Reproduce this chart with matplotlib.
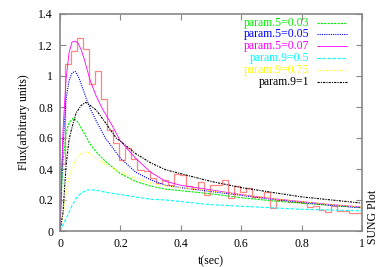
import matplotlib
matplotlib.use("Agg")
import matplotlib.pyplot as plt
import numpy as np

plt.rcParams['font.family'] = ['Liberation Serif', 'DejaVu Serif']

# ---- data ----
t_mag = [0, 0.005, 0.01, 0.02, 0.03, 0.04, 0.05, 0.06, 0.07, 0.08, 0.09, 0.1, 0.12, 0.14, 0.17, 0.2, 0.25, 0.3, 0.35, 0.4, 0.5, 0.6, 0.7, 0.8, 0.9, 1.0]
y_mag = [0, 0.35, 0.65, 0.98, 1.15, 1.22, 1.225, 1.21, 1.17, 1.11, 1.04, 0.97, 0.87, 0.79, 0.69, 0.58, 0.47, 0.38, 0.32, 0.295, 0.265, 0.235, 0.21, 0.19, 0.17, 0.155]

t_blue = [0, 0.005, 0.01, 0.02, 0.03, 0.04, 0.05, 0.06, 0.07, 0.086, 0.1, 0.12, 0.15, 0.2, 0.25, 0.3, 0.35, 0.4, 0.5, 0.6, 0.7, 0.8, 0.9, 1.0]
y_blue = [0, 0.3, 0.55, 0.85, 0.97, 1.02, 1.03, 1.0, 0.95, 0.86, 0.79, 0.71, 0.6, 0.47, 0.38, 0.33, 0.295, 0.28, 0.255, 0.23, 0.205, 0.185, 0.165, 0.15]

t_green = [0, 0.005, 0.01, 0.02, 0.03, 0.045, 0.06, 0.086, 0.1, 0.12, 0.15, 0.2, 0.25, 0.3, 0.35, 0.4, 0.5, 0.6, 0.7, 0.8, 0.9, 1.0]
y_green = [0, 0.25, 0.45, 0.63, 0.7, 0.73, 0.7, 0.61, 0.56, 0.51, 0.45, 0.37, 0.32, 0.29, 0.27, 0.26, 0.24, 0.215, 0.195, 0.18, 0.165, 0.15]

t_yel = [0, 0.01, 0.02, 0.03, 0.04, 0.053, 0.07, 0.085, 0.1, 0.12, 0.15, 0.2, 0.25, 0.3, 0.35, 0.4, 0.5, 0.6, 0.7, 0.8, 0.9, 1.0]
y_yel = [0, 0.1, 0.24, 0.35, 0.41, 0.46, 0.5, 0.51, 0.5, 0.47, 0.43, 0.38, 0.34, 0.31, 0.29, 0.28, 0.26, 0.235, 0.21, 0.19, 0.17, 0.155]

t_cyan = [0, 0.01, 0.02, 0.03, 0.04, 0.053, 0.07, 0.09, 0.11, 0.13, 0.15, 0.2, 0.25, 0.3, 0.35, 0.4, 0.5, 0.6, 0.7, 0.8, 0.9, 1.0]
y_cyan = [0, 0.04, 0.08, 0.12, 0.165, 0.21, 0.245, 0.265, 0.265, 0.26, 0.25, 0.235, 0.22, 0.205, 0.2, 0.19, 0.17, 0.16, 0.15, 0.14, 0.135, 0.13]

t_blk = [0, 0.01, 0.02, 0.03, 0.04, 0.053, 0.07, 0.085, 0.1, 0.12, 0.15, 0.186, 0.2, 0.25, 0.3, 0.35, 0.4, 0.5, 0.6, 0.7, 0.8, 0.9, 1.0]
y_blk = [0, 0.12, 0.42, 0.59, 0.67, 0.76, 0.81, 0.83, 0.81, 0.78, 0.7, 0.6, 0.58, 0.5, 0.44, 0.395, 0.37, 0.32, 0.28, 0.25, 0.22, 0.2, 0.18]

# histogram (bin 0 is the partial first bin from 0)
hist_first_edge = 0.0166
hist_width = 0.02
hist_vals = [0.43, 1.077, 1.16, 1.243, 1.174, 0.948, 1.03, 0.85, 0.65, 0.567,
             0.458, 0.535, 0.465, 0.394, 0.39, 0.34, 0.31, 0.33, 0.30, 0.37,
             0.36, 0.29, 0.27, 0.318, 0.23, 0.30, 0.30, 0.33, 0.21, 0.29,
             0.25, 0.28, 0.22, 0.22, 0.25, 0.15, 0.20, 0.20, 0.19, 0.19,
             0.18, 0.155, 0.16, 0.135, 0.12, 0.16, 0.13, 0.13, 0.115, 0.115,
             0.115]

labels = ["param.5=0.03", "param.5=0.05", "param.5=0.07",
          "param.9=0.5", "param.9=0.75", "param.9=1"]

# ---- figure ----
fig = plt.figure(figsize=(3.82, 2.67), dpi=100)
ax = fig.add_axes([60/382, 1-231/267, 302/382, 217/267])

edges = [0.0] + [hist_first_edge + hist_width*i for i in range(len(hist_vals)-1)]
edges = edges + [1.0]
edges = np.minimum(np.array(edges), 1.0)
ax.stairs(hist_vals, edges, color='#ff7070', lw=0.9, alpha=0.85, baseline=None, zorder=1)

series = [
    (t_green, y_green, '#00ee00', (0, (2, 1)), 0.8),
    (t_blue, y_blue, '#0000ff', (0, (1, 1)), 0.8),
    (t_mag, y_mag, '#ff00ff', '-', 0.6),
    (t_cyan, y_cyan, '#00ffff', (0, (3, 1.5)), 0.8),
    (t_yel, y_yel, '#ffff00', (0, (1, 1.5)), 0.8),
    (t_blk, y_blk, '#000000', (0, (2, 1, 1, 1)), 0.8),
]
for (t, y, c, ls, lw) in series:
    ax.plot(t, y, color=c, lw=lw, ls=ls, zorder=2)

ax.set_xlim(0, 1)
ax.set_ylim(0, 1.4)
ax.set_xticks([0, 0.2, 0.4, 0.6, 0.8, 1.0])
ax.set_xticklabels(["0", "0.2", "0.4", "0.6", "0.8", "1"])
ax.set_yticks([0, 0.2, 0.4, 0.6, 0.8, 1.0, 1.2, 1.4])
ax.set_yticklabels(["0", "0.2", "0.4", "0.6", "0.8", "1", "1.2", "1.4"])
ax.tick_params(direction='in', top=True, right=True, length=4, width=0.8,
               color='#888888', labelsize=8.5, pad=5)
for s in ax.spines.values():
    s.set_color('#888888')
    s.set_linewidth(1.2)

ax.set_xlabel("t(sec)", fontsize=8.5, labelpad=4)
ax.set_ylabel("Flux(arbitrary units)", fontsize=8.5, labelpad=6)

# legend, gnuplot style (right-aligned coloured text with sample line)
leg_y = [23, 34, 46, 58, 70, 82]
for (t, y, c, ls, lw), lab, yp in zip(series, labels, leg_y):
    yf = 1 - yp/267
    fig.text(309/382, yf, lab, color=c, ha='right', va='center', fontsize=8.5)
    fig.add_artist(plt.Line2D([317/382, 347/382], [yf, yf], color=c, lw=lw, ls=ls,
                              transform=fig.transFigure))

fig.text(373/382, 1-217/267, "SUNG Plot", rotation=90, ha='center', va='center', fontsize=8.5)

fig.savefig("out.png", dpi=100)
